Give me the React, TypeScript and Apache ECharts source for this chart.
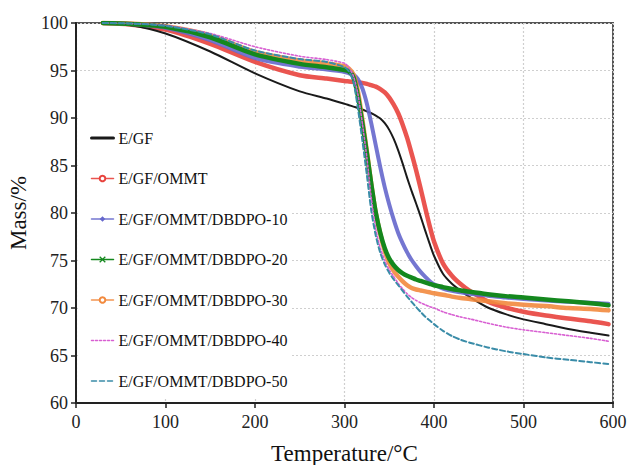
import React, { useEffect, useRef } from 'react';
import * as echarts from 'echarts';

const temperatures = [30, 60, 100, 150, 200, 250, 280, 300, 305, 310, 315, 320, 325, 330, 335, 340, 345, 350, 355, 360, 365, 370, 375, 380, 385, 390, 395, 400, 410, 420, 430, 440, 460, 480, 500, 525, 550, 575, 595];

const seriesNames = [
  'E/GF',
  'E/GF/OMMT',
  'E/GF/OMMT/DBDPO-10',
  'E/GF/OMMT/DBDPO-20',
  'E/GF/OMMT/DBDPO-30',
  'E/GF/OMMT/DBDPO-40',
  'E/GF/OMMT/DBDPO-50',
];

const massEGF = [100, 99.8, 98.9, 97.0, 94.7, 92.8, 92.05, 91.5, 91.35, 91.2, 91.05, 90.9, 90.7, 90.5, 90.25, 89.95, 89.45, 88.75, 87.8, 86.6, 85.2, 83.7, 82.3, 81.0, 79.65, 78.2, 76.8, 75.5, 73.6, 72.55, 71.8, 71.15, 70.05, 69.35, 68.8, 68.3, 67.8, 67.4, 67.1];
const massOMMT = [100, 99.85, 99.3, 97.8, 95.9, 94.5, 94.15, 93.9, 93.85, 93.8, 93.75, 93.7, 93.6, 93.45, 93.3, 93.05, 92.7, 92.15, 91.4, 90.5, 89.3, 87.9, 86.25, 84.5, 82.6, 80.6, 78.7, 77.0, 74.7, 73.4, 72.5, 71.8, 70.7, 70.05, 69.6, 69.2, 68.9, 68.6, 68.3];
const massD10 = [100, 99.9, 99.5, 98.2, 96.3, 95.4, 95.1, 94.85, 94.7, 94.55, 94.1, 93.1, 91.5, 89.4, 87.1, 84.8, 82.7, 80.9, 79.3, 77.9, 76.8, 75.85, 75.05, 74.4, 73.8, 73.3, 72.85, 72.5, 72.05, 71.8, 71.65, 71.5, 71.3, 71.1, 70.95, 70.8, 70.65, 70.55, 70.45];
const massD20 = [100, 99.9, 99.6, 98.5, 96.7, 95.7, 95.35, 95.05, 94.9, 94.3, 92.3, 89.4, 86.3, 83.0, 80.0, 77.9, 76.3, 75.2, 74.5, 74.0, 73.65, 73.4, 73.2, 73.0, 72.85, 72.7, 72.55, 72.4, 72.2, 72.0, 71.85, 71.7, 71.45, 71.25, 71.1, 70.9, 70.7, 70.5, 70.3];
const massD30 = [100, 99.95, 99.65, 98.7, 96.95, 96.05, 95.75, 95.45, 95.2, 94.6, 92.8, 89.8, 86.5, 83.0, 80.0, 77.8, 76.0, 74.7, 73.9, 73.3, 72.8, 72.4, 72.1, 71.95, 71.85, 71.75, 71.65, 71.55, 71.4, 71.2, 71.05, 70.95, 70.7, 70.5, 70.35, 70.2, 70.0, 69.9, 69.75];
const massD40 = [100, 99.95, 99.75, 98.9, 97.5, 96.5, 96.15, 95.75, 95.3, 94.4, 92.5, 89.4, 85.8, 81.5, 78.3, 76.3, 75.0, 74.0, 73.3, 72.6, 72.0, 71.5, 71.1, 70.8, 70.55, 70.35, 70.15, 70.0, 69.6, 69.3, 69.05, 68.85, 68.4, 68.0, 67.7, 67.4, 67.1, 66.8, 66.5];
const massD50 = [100, 99.95, 99.7, 98.8, 97.1, 96.2, 95.9, 95.35, 94.9, 93.8, 91.0, 87.6, 84.0, 80.2, 77.6, 75.8, 74.6, 73.7, 73.0, 72.4, 71.8, 71.2, 70.65, 70.1, 69.6, 69.1, 68.7, 68.3, 67.6, 67.05, 66.65, 66.35, 65.85, 65.45, 65.15, 64.8, 64.55, 64.3, 64.1];

const FONT = "'Liberation Serif', 'Times New Roman', serif";

export default function App() {
  const ref = useRef<HTMLDivElement>(null);

  useEffect(() => {
    document.body.style.margin = '0';
    const chart = echarts.init(ref.current as HTMLDivElement, null, { renderer: 'svg' });
    const pair = (vals: number[]) => temperatures.map((t, i) => [t, vals[i]]);

    const line = (
      name: string,
      vals: number[],
      color: string,
      width: number,
      type: any,
      symbol: string,
      opacity = 1
    ) => ({
      type: 'line',
      name,
      data: pair(vals),
      showSymbol: false,
      symbol,
      symbolSize: 5,
      smooth: 0.25,
      lineStyle: { color, width, type, opacity, cap: 'round', join: 'round' },
      itemStyle: { color },
      emphasis: { disabled: true },
    });

    const cBlack = '#1a1a1a';
    const cRed = '#e8433d';
    const cBlue = '#6567cc';
    const cGreen = '#14881e';
    const cOrange = '#f28a3e';
    const cPink = '#d85fd2';
    const cTeal = '#3a8ca8';
    const hidden = { color: 'rgba(0,0,0,0)', borderWidth: 0 };

    const option: any = {
      animation: false,
      backgroundColor: '#fff',
      grid: {
        left: 76,
        right: 17,
        top: 23,
        bottom: 62,
        outerBoundsMode: 'none',
        containLabel: false,
        show: true,
        borderColor: '#555',
        borderWidth: 2,
        backgroundColor: 'transparent',
      },
      xAxis: {
        type: 'value',
        min: 0,
        max: 600,
        interval: 100,
        name: 'Temperature/°C',
        nameLocation: 'middle',
        nameGap: 39,
        nameTextStyle: { fontFamily: FONT, fontSize: 23, color: '#111' },
        axisLine: { show: true, onZero: false, lineStyle: { color: '#222', width: 2 } },
        axisTick: { show: true, length: 5, lineStyle: { color: '#222', width: 1.5 } },
        axisLabel: { fontFamily: FONT, fontSize: 18, color: '#222', margin: 10 },
        splitLine: { show: true, lineStyle: { color: '#cfcfcf', width: 1.2, type: [2, 2] } },
      },
      yAxis: {
        type: 'value',
        min: 60,
        max: 100,
        interval: 5,
        name: 'Mass/%',
        nameLocation: 'middle',
        nameGap: 44,
        nameTextStyle: { fontFamily: FONT, fontSize: 23, color: '#111' },
        axisLine: { show: true, onZero: false, lineStyle: { color: '#222', width: 2 } },
        axisTick: { show: true, length: 5, lineStyle: { color: '#222', width: 1.5 } },
        axisLabel: { fontFamily: FONT, fontSize: 18, color: '#222', margin: 8 },
        splitLine: { show: true, lineStyle: { color: '#cfcfcf', width: 1.2, type: [2, 2] } },
      },
      legend: {
        orient: 'vertical',
        left: 78,
        top: 118,
        padding: [12, 4, 10, 12],
        backgroundColor: '#fff',
        itemWidth: 22,
        itemHeight: 7,
        itemGap: 24.5,
        selectedMode: false,
        textStyle: { fontFamily: FONT, fontSize: 16, color: '#111', lineHeight: 16 },
        data: [
          { name: seriesNames[0], lineStyle: { width: 3 }, itemStyle: hidden },
          { name: seriesNames[1], lineStyle: { width: 1.5 } },
          { name: seriesNames[2], lineStyle: { width: 1.5 } },
          { name: seriesNames[3], lineStyle: { width: 1.5 }, itemStyle: { color: 'none', borderColor: cGreen, borderWidth: 1.3 } },
          { name: seriesNames[4], lineStyle: { width: 1.5 } },
          { name: seriesNames[5], lineStyle: { width: 1.5 }, itemStyle: hidden },
          { name: seriesNames[6], lineStyle: { width: 1.5 }, itemStyle: hidden },
        ],
      },
      series: [
        line(seriesNames[1], massOMMT, cRed, 4.5, 'solid', 'emptyCircle', 0.9),
        line(seriesNames[0], massEGF, cBlack, 2, 'solid', 'none'),
        line(seriesNames[2], massD10, cBlue, 4, 'solid', 'diamond', 0.9),
        line(seriesNames[4], massD30, cOrange, 4.5, 'solid', 'emptyCircle', 0.9),
        line(seriesNames[3], massD20, cGreen, 4.5, 'solid', 'path://M0,0L10,10M10,0L0,10'),
        line(seriesNames[5], massD40, cPink, 1.6, [2, 2], 'none'),
        line(seriesNames[6], massD50, cTeal, 2, [5, 3], 'none'),
      ],
    };

    chart.setOption(option);
    return () => chart.dispose();
  }, []);

  return <div ref={ref} style={{ width: 630, height: 465 }} />;
}
